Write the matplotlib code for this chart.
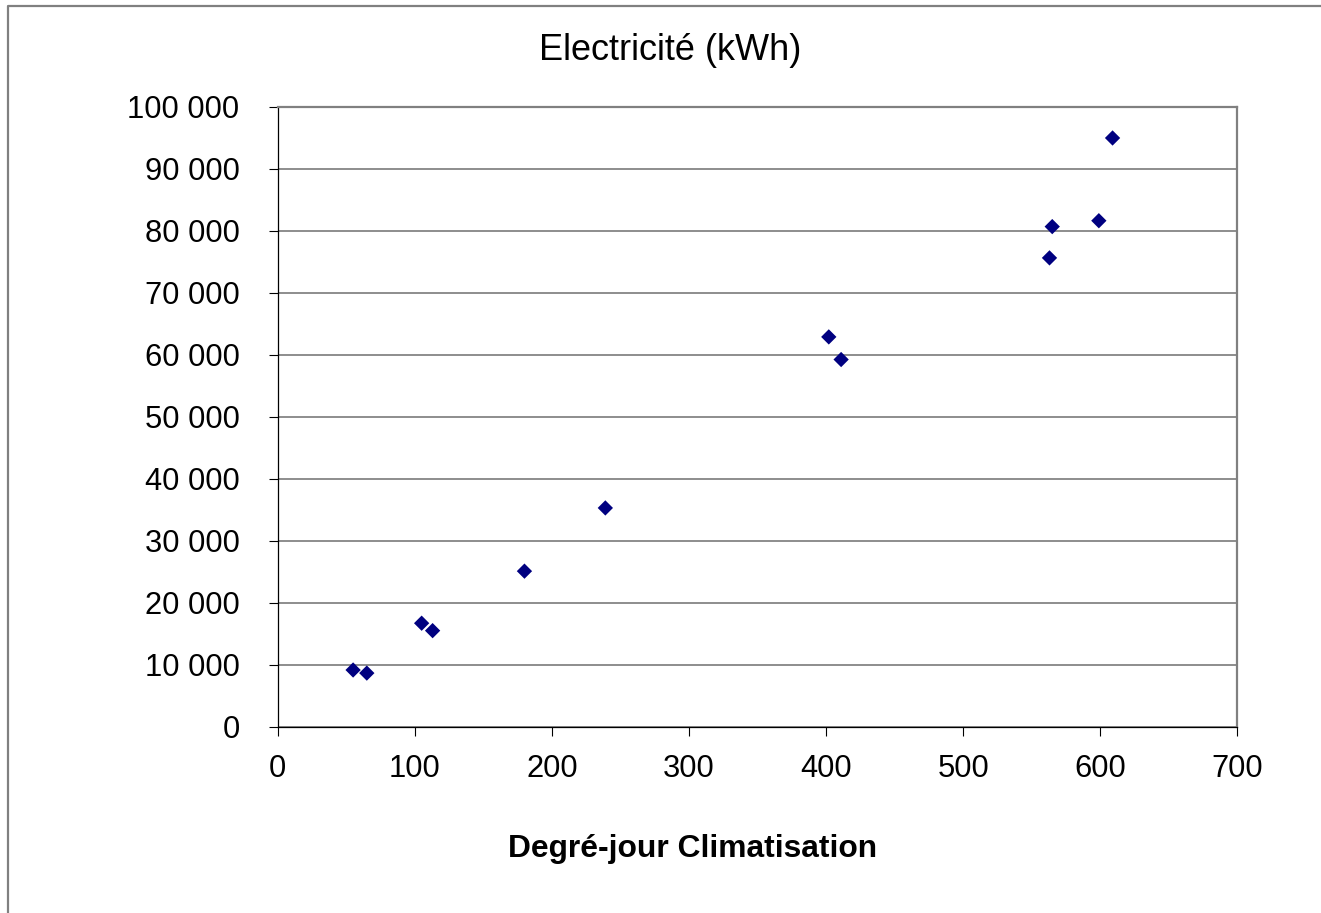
import matplotlib
matplotlib.use("Agg")
import matplotlib.pyplot as plt
from matplotlib.lines import Line2D
from matplotlib.ticker import FuncFormatter, MultipleLocator

plt.rcParams['font.family'] = ['Liberation Sans', 'DejaVu Sans']

degre_jour = [55, 65, 105, 113, 180, 239, 402, 411, 563, 565, 599, 609]
electricite = [9150, 8650, 16700, 15500, 25100, 35300, 62900, 59250, 75650, 80700, 81650, 95000]

title = "Electricité (kWh)"
xlabel = "Degré-jour Climatisation"

W, H = 1321, 913
fig = plt.figure(figsize=(W / 100, H / 100), dpi=100)
fig.patch.set_facecolor('white')

x0, x1 = 277.7, 1237.3
y0, y1 = 107.0, 726.7
ax = fig.add_axes([x0 / W, 1 - y1 / H, (x1 - x0) / W, (y1 - y0) / H])

ax.scatter(degre_jour, electricite, marker='D', s=7.8 ** 2, color='#000080',
           edgecolors='none', zorder=3, clip_on=False)

ax.set_xlim(0, 700)
ax.set_ylim(0, 100000)
ax.xaxis.set_major_locator(MultipleLocator(100))
ax.yaxis.set_major_locator(MultipleLocator(10000))
ax.yaxis.set_major_formatter(FuncFormatter(lambda v, p: f"{int(v):,}".replace(",", " ")))

ax.grid(axis='y', color='#7a7a7a', linewidth=1.2, zorder=1)
ax.set_axisbelow(True)

for s in ['left', 'bottom']:
    ax.spines[s].set_color('black')
    ax.spines[s].set_linewidth(0.9)
for s in ['top', 'right']:
    ax.spines[s].set_color('#808080')
    ax.spines[s].set_linewidth(1.6)

ax.tick_params(axis='both', direction='out', length=6.5, width=0.8, color='black',
               labelsize=22.2, labelcolor='black')
ax.tick_params(axis='y', pad=21)
ax.tick_params(axis='x', pad=13)

fig.text(670 / W, 1 - 60.3 / H, title, ha='center', va='baseline', fontsize=26)
fig.text(692.5 / W, 1 - 856.7 / H, xlabel, ha='center', va='baseline', fontsize=22.9,
         fontweight='bold')

# outer chart border (cut at right and bottom)
fig.add_artist(Line2D([8 / W, 8 / W, 1.0], [0.0, 1 - 6 / H, 1 - 6 / H],
                      transform=fig.transFigure, color='#808080', linewidth=1.6))

fig.savefig("out.png", dpi=100, facecolor='white')
